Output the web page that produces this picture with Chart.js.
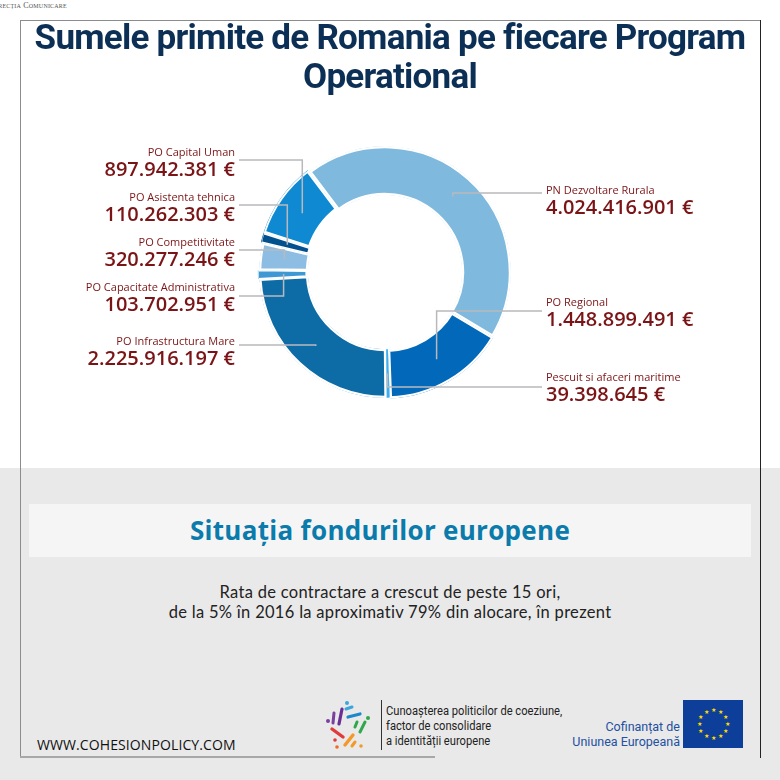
<!DOCTYPE html>
<html lang="ro">
<head>
<meta charset="utf-8">
<title>Sumele primite de Romania pe fiecare Program Operational</title>
<script src="https://cdn.jsdelivr.net/npm/chart.js@4.4.1/dist/chart.umd.min.js"></script>
<style>
  body { margin:0; width:780px; height:780px; position:relative; overflow:hidden; background:#fff; font-family:"Open Sans", sans-serif; }
  .abs { position:absolute; }
  #jos { left:0; top:468px; width:780px; height:312px; background:#e9e9e9; }
  #sus { left:-10px; top:1px; font:8px "Liberation Serif", serif; font-variant:small-caps; color:#555; letter-spacing:0.2px; }
  .lin { background:#8c8c8c; }
  #titlu { left:20px; top:18px; width:740px; text-align:center; font:700 35px/39px Roboto, sans-serif; color:#0c2f55; letter-spacing:-0.75px; }
  #cutie { left:29px; top:504px; width:702px; padding-right:20px; height:53px; background:#f5f5f5; text-align:center; font:700 26px/52px "Open Sans", sans-serif; color:#0a7bab; letter-spacing:0.3px; }
  #para { left:0; top:582px; width:780px; text-align:center; font:400 16.5px/20px Lato, sans-serif; color:#222; letter-spacing:0.3px; }
  #www { left:37px; top:736px; font:14px/18px "Open Sans", sans-serif; color:#111; letter-spacing:0.1px; }
  #logoTxt { left:386px; top:704px; font:12px/15px Roboto, sans-serif; color:#222; transform:scaleX(0.93); transform-origin:left top; white-space:nowrap; }
  #cofin { left:560px; top:719px; width:120px; text-align:right; font:12.5px/15px Roboto, sans-serif; color:#2350a0; }
</style>
</head>
<body>
<div id="jos" class="abs"></div>
<div id="sus" class="abs">Direcția Comunicare</div>

<!-- rama -->
<div class="abs lin" style="left:20px;top:20px;width:740px;height:1px"></div>
<div class="abs lin" style="left:20px;top:20px;width:1px;height:737px"></div>
<div class="abs" style="left:760px;top:20px;width:1px;height:738px;background:#222"></div>
<div class="abs" style="left:20px;top:756px;width:415px;height:2px;background:#a8a8a8"></div>

<canvas id="pie" class="abs" width="780" height="460" style="left:0;top:0"></canvas>

<div id="titlu" class="abs">Sumele primite de Romania pe fiecare Program<br>Operational</div>

<div id="cutie" class="abs">Situația fondurilor europene</div>
<div id="para" class="abs">Rata de contractare a crescut de peste 15 ori,<br>de la 5% în 2016 la aproximativ 79% din alocare, în prezent</div>

<div id="www" class="abs">WWW.COHESIONPOLICY.COM</div>

<svg class="abs" style="left:320px;top:695px" width="60" height="60" viewBox="320 695 60 60" stroke-linecap="round" fill="none">
  <circle cx="328" cy="721" r="2" fill="#7b3fa0"/>
  <line x1="334" y1="713" x2="333" y2="723" stroke="#7b3fa0" stroke-width="3"/>
  <line x1="342" y1="709" x2="339" y2="724" stroke="#6a2f95" stroke-width="3.2"/>
  <circle cx="347" cy="703" r="2" fill="#3aa6e0"/>
  <line x1="346" y1="709" x2="352" y2="707" stroke="#3aa6e0" stroke-width="3"/>
  <line x1="348" y1="717" x2="360" y2="714" stroke="#1d88cc" stroke-width="3.2"/>
  <line x1="355" y1="727" x2="357" y2="722" stroke="#2ea84a" stroke-width="3"/>
  <line x1="360" y1="732" x2="365" y2="722" stroke="#2ea84a" stroke-width="3"/>
  <circle cx="368" cy="718" r="2" fill="#2ea84a"/>
  <line x1="332" y1="729" x2="343" y2="737" stroke="#e03a3a" stroke-width="3.4"/>
  <circle cx="335" cy="740" r="1.8" fill="#e03a3a"/>
  <circle cx="337" cy="747" r="1.8" fill="#f06a2a"/>
  <line x1="345" y1="745" x2="353" y2="735" stroke="#f2992a" stroke-width="3.4"/>
  <line x1="352" y1="746" x2="355" y2="742" stroke="#f2992a" stroke-width="3"/>
  <circle cx="361" cy="746" r="1.8" fill="#f2992a"/>
</svg>
<div class="abs" style="left:381px;top:700px;width:1px;height:50px;background:#333"></div>
<div id="logoTxt" class="abs">Cunoașterea politicilor de coeziune,<br>factor de consolidare<br>a identității europene</div>

<div id="cofin" class="abs">Cofinanțat de<br>Uniunea Europeană</div>
<svg id="eu" class="abs" style="left:683px;top:700px" width="60" height="48"></svg>

<script>
// sumele primite pe fiecare program (euro)
const programe = ['PN Dezvoltare Rurala', 'PO Regional', 'Pescuit si afaceri maritime', 'PO Infrastructura Mare',
                  'PO Capacitate Administrativa', 'PO Competitivitate', 'PO Asistenta tehnica', 'PO Capital Uman'];
const sume = [4024416901, 1448899491, 39398645, 2225916197, 103702951, 320277246, 110262303, 897942381];
const culori = ['#80b9de', '#0268b9', '#3aaef0', '#0d6ca6', '#3d98d3', '#8dbde2', '#02518e', '#0f8ad2'];

// unde stau etichetele (stanga / dreapta), y-ul numelui si al liniei
const etichete = [
  { side: 'r', nameY: 194, lineY: 193 },
  { side: 'r', nameY: 306, lineY: 311 },
  { side: 'r', nameY: 381, lineY: 387 },
  { side: 'l', nameY: 345, lineY: 345 },
  { side: 'l', nameY: 291, lineY: 296 },
  { side: 'l', nameY: 246, lineY: 250 },
  { side: 'l', nameY: 201, lineY: 205 },
  { side: 'l', nameY: 156, lineY: 160 }
];

function fmt(v) {
  return String(v).replace(/\B(?=(\d{3})+(?!\d))/g, '.') + ' €';
}

// desenam etichetele si liniile dupa felii
const eticheteLaterale = {
  id: 'eticheteLaterale',
  afterDatasetsDraw(chart) {
    const ctx = chart.ctx;
    const meta = chart.getDatasetMeta(0);
    meta.data.forEach((arc, i) => {
      const p = arc.getProps(['x', 'y', 'startAngle', 'endAngle', 'innerRadius', 'outerRadius']);
      const a = (p.startAngle + p.endAngle) / 2;
      const r = (p.innerRadius + p.outerRadius) / 2;
      const ax = p.x + Math.cos(a) * r;
      const ay = p.y + Math.sin(a) * r;
      const e = etichete[i];
      const left = e.side === 'l';
      const tx = left ? 235 : 546;
      const lx = left ? 239 : 542;

      ctx.save();
      ctx.strokeStyle = '#b9b9bd';
      ctx.lineWidth = 1.5;
      ctx.beginPath();
      ctx.moveTo(lx, e.lineY);
      ctx.lineTo(ax, e.lineY);
      ctx.lineTo(ax, ay);
      ctx.stroke();

      ctx.fillStyle = '#7b1416';
      ctx.textAlign = left ? 'right' : 'left';
      ctx.textBaseline = 'alphabetic';
      ctx.font = '11px "Open Sans"';
      ctx.fillText(programe[i], tx, e.nameY);
      ctx.font = '600 20px "Open Sans"';
      ctx.fillText(fmt(sume[i]), tx, e.nameY + 20);
      ctx.restore();
    });
  }
};

new Chart(document.getElementById('pie'), {
  type: 'doughnut',
  data: {
    labels: programe,
    datasets: [{
      data: sume,
      backgroundColor: culori,
      borderColor: '#ffffff',
      borderAlign: 'inner',
      borderWidth: [2, 2, 0, 2, 1, 2, 1, 2],
      offset: [0, 3, 0, 0, 3, 0, 4, 6],
      hoverOffset: 0
    }]
  },
  options: {
    responsive: false,
    animation: false,
    events: [],
    rotation: -37,
    cutout: '61%',
    radius: 126,
    layout: { padding: { left: 0, right: 10, top: 84, bottom: 0 } },
    plugins: {
      legend: { display: false },
      tooltip: { enabled: false }
    }
  },
  plugins: [eticheteLaterale]
});

// steagul UE
(function () {
  const svg = document.getElementById('eu');
  let s = '<rect width="60" height="48" fill="#0d3f9a"/>';
  for (let k = 0; k < 12; k++) {
    const t = k * Math.PI / 6;
    s += '<text x="' + (30 + Math.cos(t) * 14).toFixed(1) + '" y="' + (26 + Math.sin(t) * 14).toFixed(1) +
         '" font-size="6" fill="#ffdd00" text-anchor="middle">★</text>';
  }
  svg.innerHTML = s;
})();
</script>
</body>
</html>
